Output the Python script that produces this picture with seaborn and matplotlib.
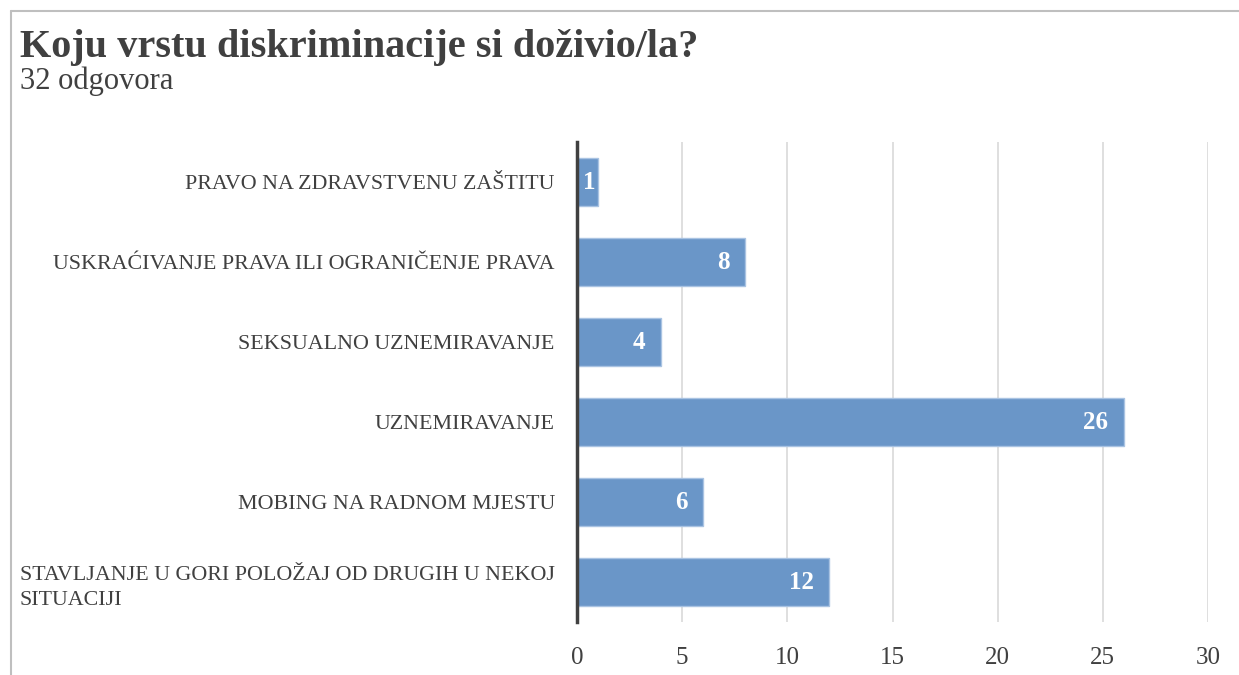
import pandas as pd
import seaborn as sns
import matplotlib.pyplot as plt
from matplotlib.lines import Line2D

# answers to the survey question, top to bottom as in the chart
categories = [
    'PRAVO NA ZDRAVSTVENU ZAŠTITU',
    'USKRAĆIVANJE PRAVA ILI OGRANIČENJE PRAVA',
    'SEKSUALNO UZNEMIRAVANJE',
    'UZNEMIRAVANJE',
    'MOBING NA RADNOM MJESTU',
    'STAVLJANJE U GORI POLOŽAJ OD DRUGIH U NEKOJ\nSITUACIJI',
]
counts = [1, 8, 4, 26, 6, 12]
x_ticks = [0, 5, 10, 15, 20, 25, 30]

data = pd.DataFrame({'kategorija': categories, 'broj': counts})

sns.set_style('white')
plt.rcParams['font.family'] = ['Liberation Serif', 'DejaVu Serif']

fig = plt.figure(figsize=(12.39, 6.75), dpi=100)
ax = fig.add_axes([0.4657, 0.0785, 0.5093, 0.7111])

sns.barplot(
    data=data,
    x='broj',
    y='kategorija',
    orient='h',
    color='#6a96c8',
    saturation=1,
    width=0.59,
    edgecolor='#a9c3e2',
    linewidth=1,
    ax=ax,
)

# value labels inside the bar end; short bars keep the label off the axis line
for bar, val in zip(ax.patches, counts):
    w = bar.get_width()
    yc = bar.get_y() + bar.get_height() / 2
    if w < 1.5:
        ax.text(0.3, yc, str(val), color='white', fontsize=18,
                fontweight='bold', ha='left', va='center')
    else:
        ax.text(w - 0.75, yc, str(val), color='white', fontsize=18,
                fontweight='bold', ha='right', va='center')

ax.set_xlim(0, 30)
ax.set_xticks(x_ticks)
ax.xaxis.grid(True, color='#d9d9d9', linewidth=1.2)
ax.set_axisbelow(True)
ax.set_xlabel('')
ax.set_ylabel('')
ax.tick_params(axis='both', length=0, colors='#404040')
ax.tick_params(axis='x', pad=18, labelsize=18)
ax.tick_params(axis='y', pad=16, labelsize=15.8)
for lbl in ax.get_yticklabels():
    lbl.set_multialignment('left')
    lbl.set_linespacing(1.45)
for s in ['top', 'right', 'bottom']:
    ax.spines[s].set_visible(False)
ax.spines['left'].set_color('#404040')
ax.spines['left'].set_linewidth(2.5)

fig.text(0.016, 0.915, 'Koju vrstu diskriminacije si doživio/la?', fontsize=29,
         fontweight='bold', color='#404040')
fig.text(0.016, 0.868, '32 odgovora', fontsize=22, color='#404040')

# outer frame
fig.add_artist(Line2D([0.009, 1.0], [0.984, 0.984], color='#bfbfbf', linewidth=1.5))
fig.add_artist(Line2D([0.009, 0.009], [0.0, 0.984], color='#bfbfbf', linewidth=1.5))

plt.savefig('out.png', dpi=100)
